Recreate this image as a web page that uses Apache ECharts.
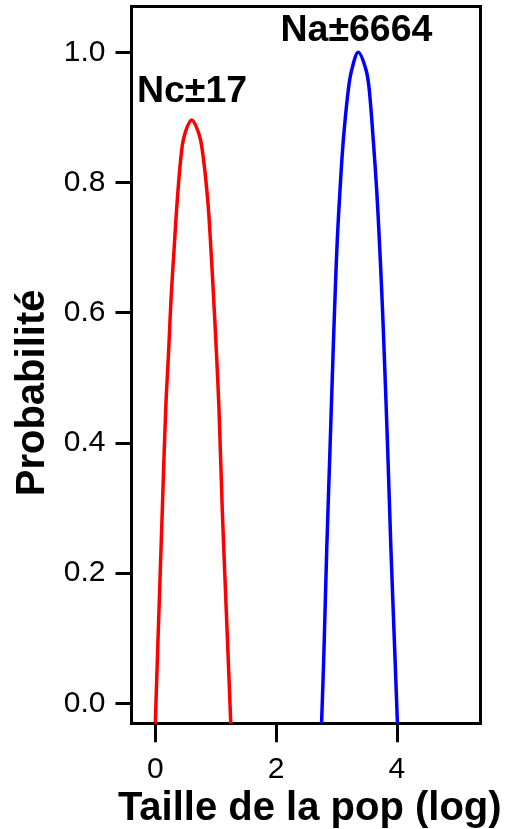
<!DOCTYPE html>
<html>
<head>
<meta charset="utf-8">
<script src="https://cdn.jsdelivr.net/npm/echarts@6/dist/echarts.min.js"></script>
<style>
  html, body { margin: 0; padding: 0; background: #fff; }
  #chart { width: 506px; height: 829px; }
</style>
</head>
<body>
<div id="chart"></div>
<script>
// Courbes (x = log taille de pop, y = probabilité)
const redX = [0.0, 0.061, 0.116, 0.172, 0.222, 0.26, 0.31, 0.364, 0.437, 0.50, 0.603, 0.71, 0.778, 0.868, 0.922, 0.967, 1.010, 1.055, 1.109, 1.175, 1.25];
const redY = [-0.031, 0.143, 0.297, 0.451, 0.543, 0.62, 0.696, 0.773, 0.85, 0.878, 0.896, 0.878, 0.85, 0.773, 0.696, 0.62, 0.543, 0.451, 0.297, 0.143, -0.031];

const blueX = [2.753, 2.793, 2.838, 2.892, 2.947, 2.980, 3.013, 3.058, 3.113, 3.195, 3.252, 3.361, 3.489, 3.543, 3.609, 3.666, 3.709, 3.748, 3.786, 3.848, 3.902, 3.964, 4.009];
const blueY = [-0.031, 0.082, 0.235, 0.389, 0.548, 0.635, 0.712, 0.788, 0.865, 0.942, 0.973, 1.0, 0.973, 0.942, 0.865, 0.788, 0.712, 0.635, 0.548, 0.389, 0.235, 0.082, -0.031];

const labelX = [0.608, 3.33];
const labelY = [0.939, 1.033];
const labelText = ["Nc±17", "Na±6664"];

const xTicks = [0, 2, 4];
const yTicks = [0, 0.2, 0.4, 0.6, 0.8, 1.0];

const X_MIN = -0.394, X_MAX = 5.376;
const Y_MIN = -0.0307, Y_MAX = 1.0704;

const FONT = "Liberation Sans, Arial, sans-serif";

const zip = (xs, ys) => xs.map((x, i) => [x, ys[i]]);
const boxLine = () => ({ show: true, onZero: false, lineStyle: { color: "#000", width: 3, cap: "square" } });
const GRID_POS = { left: 131.5, right: 26, top: 6.5, bottom: 105.7, outerBoundsMode: "none", containLabel: false };

const chart = echarts.init(document.getElementById("chart"), null, { renderer: "canvas" });

chart.setOption({
  backgroundColor: "#fff",
  animation: false,
  // grille 1 : même cadre, sans série, seulement pour les graduations de l'axe x
  grid: [Object.assign({}, GRID_POS), Object.assign({}, GRID_POS)],
  xAxis: [
    {
      gridIndex: 0, type: "value", position: "bottom",
      min: X_MIN, max: X_MAX,
      axisLine: boxLine(),
      splitLine: { show: false },
      axisTick: { show: true, customValues: xTicks, length: 19, lineStyle: { color: "#000", width: 3 } },
      axisLabel: {
        customValues: xTicks, margin: 31,
        color: "#000", fontSize: 30, fontFamily: FONT,
      },
      name: "Taille de la pop (log)",
      nameLocation: "middle",
      nameGap: 66,
      nameTextStyle: { color: "#000", fontSize: 40, fontWeight: "bold", fontFamily: FONT, padding: [0, 0, 0, 8] },
    },
    {
      // bord supérieur du cadre
      gridIndex: 0, type: "value", position: "top",
      min: X_MIN, max: X_MAX,
      axisLine: boxLine(),
      splitLine: { show: false },
      axisTick: { show: false },
      axisLabel: { show: false },
    },
    {
      // graduations de l'axe x
      gridIndex: 1, type: "value", position: "bottom",
      min: X_MIN, max: X_MAX,
      axisLine: { show: false, onZero: false },
      splitLine: { show: false },
      axisTick: { show: true, customValues: xTicks, length: 19, lineStyle: { color: "#000", width: 3 } },
      axisLabel: { show: false },
    },
  ],
  yAxis: [
    {
      gridIndex: 0, type: "value", position: "left",
      min: Y_MIN, max: Y_MAX,
      axisLine: boxLine(),
      splitLine: { show: false },
      axisTick: { show: true, customValues: yTicks, length: 16, lineStyle: { color: "#000", width: 3 } },
      axisLabel: {
        customValues: yTicks, margin: 26,
        color: "#000", fontSize: 30, fontFamily: FONT,
        formatter: (v) => v.toFixed(1),
      },
      name: "Probabilité",
      nameLocation: "middle",
      nameGap: 76,
      nameTextStyle: { color: "#000", fontSize: 40, fontWeight: "bold", fontFamily: FONT, padding: [0, 56, 0, 0] },
    },
    {
      // bord droit du cadre
      gridIndex: 0, type: "value", position: "right",
      min: Y_MIN, max: Y_MAX,
      axisLine: boxLine(),
      splitLine: { show: false },
      axisTick: { show: false },
      axisLabel: { show: false },
    },
    {
      gridIndex: 1, type: "value",
      min: Y_MIN, max: Y_MAX,
      show: false,
    },
  ],
  series: [
    {
      name: "Nc", type: "line", data: zip(redX, redY),
      xAxisIndex: 0, yAxisIndex: 0,
      smooth: 0.35, showSymbol: false, clip: true,
      lineStyle: { color: "#ff0000", width: 3.5 },
    },
    {
      name: "Na", type: "line", data: zip(blueX, blueY),
      xAxisIndex: 0, yAxisIndex: 0,
      smooth: 0.35, showSymbol: false, clip: true,
      lineStyle: { color: "#0000ff", width: 3.5 },
    },
    {
      name: "labels", type: "scatter", symbolSize: 0, silent: true,
      xAxisIndex: 0, yAxisIndex: 0,
      itemStyle: { opacity: 1 },
      data: labelX.map((x, i) => ({ value: [x, labelY[i]], name: labelText[i] })),
      label: {
        show: true, position: "inside", formatter: (p) => p.name, opacity: 1,
        color: "#000", fontSize: 37.5, fontWeight: "bold", fontFamily: FONT,
      },
    },
  ],
});
</script>
</body>
</html>
